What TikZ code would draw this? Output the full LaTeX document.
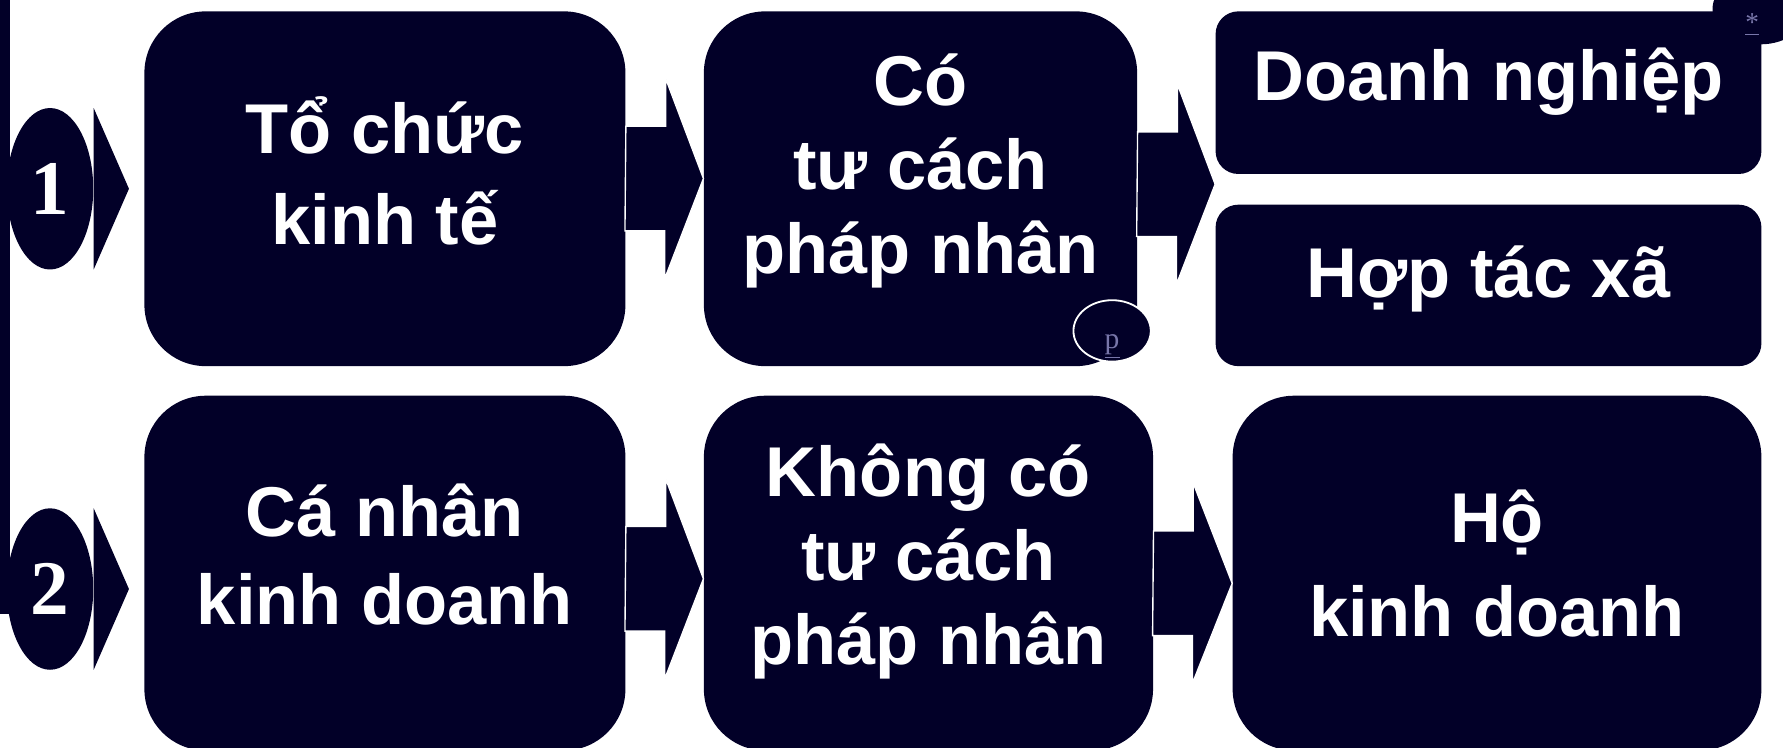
\documentclass[tikz,border=0pt]{standalone}
\usepackage{fontspec}
\setmainfont{Liberation Sans}
\newfontfamily\numfont{Liberation Serif}
\usetikzlibrary{arrows}
\usetikzlibrary{shapes}
\definecolor{navy}{RGB}{2,0,40}
\definecolor{lilac}{RGB}{120,118,170}
\newcommand{\lift}[2]{\raisebox{#1}[\height][\depth]{\begin{tabular}{@{}c@{}}#2\end{tabular}}}

\begin{document}
\begin{tikzpicture}[x = 0.5pt, y = -0.5pt]
\tikzstyle{BoxStyle}=[shape = rectangle,
                      rounded corners = 27pt,
                      fill = navy,
                      text = white,
                      inner sep = 0pt,
                      font = \bfseries\fontsize{31}{40}\selectfont]
\tikzstyle{TallText}=[font = \bfseries\fontsize{31}{37}\selectfont]
\tikzstyle{SmallBox}=[BoxStyle, rounded corners = 10pt]
\tikzstyle{NumStyle}=[shape = ellipse,
                      fill = navy,
                      text = white,
                      minimum width = 38pt,
                      minimum height = 71pt,
                      inner sep = 0pt,
                      font = \numfont\bfseries\fontsize{34}{34}\selectfont]
\tikzstyle{BlockArrow}=[fill = navy, draw = white, line width = 0.6pt]
\useasboundingbox (0,0) rectangle (1568,657);
\fill[navy] (0,0) rectangle (9,540);
\node[BoxStyle, minimum width = 211.5pt, minimum height = 156pt] (b0) at (338.5,166) {\lift{3.5pt}{Tổ chức\\kinh tế}};
\node[BoxStyle, TallText, minimum width = 190.5pt, minimum height = 156pt] (b1) at (809.5,166) {\lift{7pt}{Có\\tư cách\\pháp nhân}};
\node[SmallBox, minimum width = 240pt, minimum height = 71.5pt] (b2) at (1309,81.5) {\lift{4.5pt}{Doanh nghiệp}};
\node[SmallBox, minimum width = 240pt, minimum height = 71pt] (b3) at (1309,251) {\lift{2.5pt}{Hợp tác xã}};
\node[BoxStyle, font = \bfseries\fontsize{31}{39}\selectfont, minimum width = 211.5pt, minimum height = 156pt] (b4) at (338.5,504) {\lift{4.5pt}{Cá nhân\\kinh doanh}};
\node[BoxStyle, TallText, minimum width = 197.5pt, minimum height = 156pt] (b5) at (816.5,504) {\lift{4pt}{Không có\\tư cách\\pháp nhân}};
\node[BoxStyle, font = \bfseries\fontsize{31}{41}\selectfont, minimum width = 232.5pt, minimum height = 156pt] (b6) at (1316.5,504) {\lift{1pt}{Hộ\\kinh doanh}};
\node[NumStyle] (n1) at (44,166) {1};
\node[NumStyle] (n2) at (44,518) {2};
\fill[navy] (n1.east) ++(0,-71) -- ++(31,71) -- ++(-31,71) -- cycle;
\fill[navy] (n2.east) ++(0,-71) -- ++(31,71) -- ++(-31,71) -- cycle;
\draw[BlockArrow] (b0.east |- 0,157) ++(0,-46) -- ++(35,0) -- ++(0,-42) -- (b1.west |- 0,157) -- ++(-34,88) -- ++(0,-42) -- ++(-35,0) -- cycle;
\draw[BlockArrow] (b1.east |- 0,162) ++(0,-46) -- ++(35,0) -- ++(0,-42) -- (b2.west |- 0,162) -- ++(-34,88) -- ++(0,-42) -- ++(-35,0) -- cycle;
\draw[BlockArrow] (b4.east |- 0,509) ++(0,-46) -- ++(35,0) -- ++(0,-42) -- (b5.west |- 0,509) -- ++(-34,88) -- ++(0,-42) -- ++(-35,0) -- cycle;
\draw[BlockArrow] (b5.east |- 0,513) ++(0,-46) -- ++(35,0) -- ++(0,-42) -- (b6.west |- 0,513) -- ++(-35,88) -- ++(0,-42) -- ++(-35,0) -- cycle;
\node[shape = ellipse, fill = navy, draw = white, line width = 0.8pt, minimum width = 34pt, minimum height = 27pt, inner sep = 0pt, text = lilac, font = \numfont\fontsize{13}{13}\selectfont] (p) at (978,291) {\raisebox{-7pt}[\height][\depth]{\underline{p}}};
\node[shape = ellipse, fill = navy, minimum width = 42pt, minimum height = 31pt] (note) at (1548,8) {};
\node[text = lilac, inner sep = 0pt, font = \numfont\fontsize{12}{12}\selectfont] (star) at (1541,22) {\underline{*}};
\end{tikzpicture}
\end{document}
